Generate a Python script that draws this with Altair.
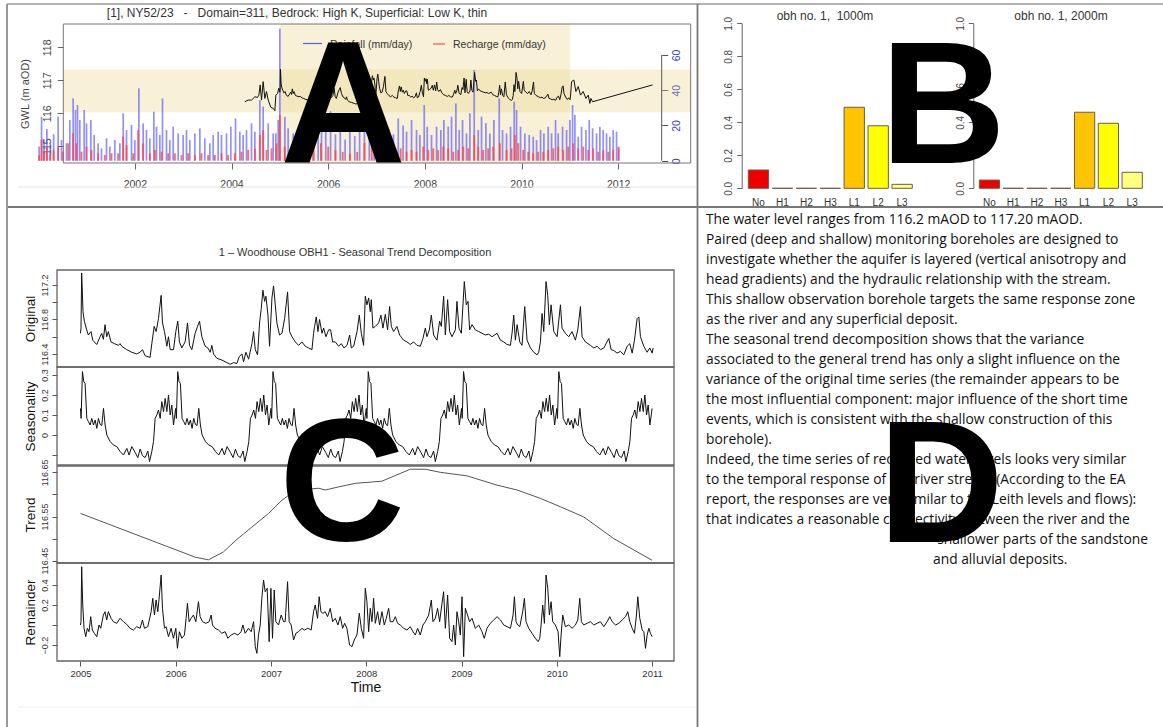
import altair as alt
import pandas as pd

FONT = "Liberation Sans"
TXT = "Open Sans"

# ================= Panel A : GWL, rainfall, recharge =================
rain = [
    (2000.02, 8), (2000.07, 25), (2000.12, 12), (2000.18, 18), (2000.25, 10), (2000.32, 15),
    (2000.414, 25.0), (2000.483, 11.7), (2000.586, 9.9), (2000.655, 23.1), (2000.724, 35.4),
    (2000.772, 28.8), (2000.814, 31.6), (2000.862, 23.1), (2000.952, 28.8), (2001.000, 21.2),
    (2001.090, 23.1), (2001.159, 14.6), (2001.241, 9.9), (2001.310, 7.0), (2001.414, 12.7),
    (2001.483, 8.0), (2001.586, 11.7), (2001.690, 9.9), (2001.759, 26.9), (2001.828, 17.4),
    (2001.931, 20.3), (2002.000, 11.7), (2002.083, 41.1), (2002.172, 21.2), (2002.241, 17.4),
    (2002.310, 12.7), (2002.393, 27.8), (2002.448, 19.3), (2002.517, 14.6), (2002.572, 35.4),
    (2002.655, 17.4), (2002.724, 11.7), (2002.793, 19.3), (2002.897, 15.5), (2003.000, 14.6),
    (2003.069, 17.4), (2003.138, 11.7), (2003.241, 15.5), (2003.345, 18.4), (2003.448, 12.7),
    (2003.552, 9.9), (2003.621, 14.6), (2003.724, 16.5), (2003.793, 14.6), (2003.897, 15.5),
    (2003.986, 19.3), (2004.083, 24.0), (2004.172, 16.5), (2004.241, 14.6), (2004.310, 17.4),
    (2004.414, 21.2), (2004.483, 16.5), (2004.586, 34.4), (2004.655, 30.7), (2004.759, 21.2),
    (2004.862, 15.5), (2004.917, 15.5), (2004.966, 23.1), (2005.000, 75.0), (2005.104, 25.0),
    (2005.172, 18.4), (2005.276, 15.5), (2005.379, 17.4), (2005.483, 19.3), (2005.586, 15.5),
    (2005.690, 25.0), (2005.793, 23.1), (2005.862, 19.3), (2005.95, 22), (2006.05, 28),
    (2006.15, 15), (2006.25, 18), (2006.35, 12), (2006.45, 20), (2006.55, 14), (2006.65, 25),
    (2006.75, 30), (2006.85, 35), (2006.95, 28), (2007.05, 32), (2007.15, 22), (2007.25, 18),
    (2007.35, 15), (2007.45, 24), (2007.55, 20),
    (2007.621, 16.5), (2007.725, 23.1), (2007.828, 17.4), (2007.897, 14.6), (2007.987, 31.6),
    (2008.049, 19.3), (2008.138, 14.6), (2008.242, 19.3), (2008.331, 17.4), (2008.393, 23.1),
    (2008.483, 19.3), (2008.552, 25.0), (2008.642, 32.5), (2008.711, 17.4), (2008.780, 23.1),
    (2008.862, 15.5), (2008.932, 26.9), (2009.021, 51.5), (2009.104, 17.4), (2009.173, 25.0),
    (2009.263, 21.2), (2009.345, 15.5), (2009.428, 23.1), (2009.539, 35.4), (2009.607, 17.4),
    (2009.690, 15.5), (2009.773, 19.3), (2009.849, 33.5), (2009.897, 28.8), (2009.980, 19.3),
    (2010.069, 15.5), (2010.159, 14.6), (2010.242, 13.6), (2010.311, 11.7), (2010.394, 17.4),
    (2010.463, 15.5), (2010.552, 19.3), (2010.621, 15.5), (2010.704, 23.1), (2010.759, 15.5),
    (2010.849, 19.3), (2010.932, 17.4), (2011.001, 23.1), (2011.056, 31.6), (2011.104, 26.0),
    (2011.173, 13.6), (2011.242, 19.3), (2011.332, 17.4), (2011.401, 23.1), (2011.470, 18.4),
    (2011.552, 15.5), (2011.621, 19.3), (2011.690, 17.4), (2011.759, 15.5), (2011.828, 13.6),
    (2011.897, 17.4), (2011.966, 16.5), (2012.008, 7.0),
]

recharge = [
    (2000.02, 3), (2000.07, 12), (2000.12, 5), (2000.18, 8), (2000.25, 4), (2000.32, 6),
    (2000.414, 7.9), (2000.517, 5.1), (2000.621, 9.9), (2000.724, 15.5), (2000.793, 9.9),
    (2000.897, 5.1), (2001.000, 7.9), (2001.103, 6.1), (2001.241, 4.2), (2001.379, 3.2),
    (2001.517, 4.2), (2001.655, 4.2), (2001.759, 13.6), (2001.828, 8.9), (2001.966, 4.2),
    (2002.069, 17.4), (2002.172, 9.9), (2002.310, 4.2), (2002.414, 6.1), (2002.552, 5.1),
    (2002.690, 4.2), (2002.828, 4.2), (2002.966, 3.2), (2003.103, 4.2), (2003.241, 3.2),
    (2003.379, 4.2), (2003.517, 3.2), (2003.655, 3.2), (2003.793, 4.2), (2003.931, 3.2),
    (2004.069, 4.2), (2004.207, 5.1), (2004.345, 6.1), (2004.483, 7.0), (2004.586, 14.6),
    (2004.655, 17.4), (2004.724, 6.1), (2004.828, 7.0), (2004.931, 9.9), (2005.000, 26.0),
    (2005.10, 8), (2005.25, 5), (2005.40, 6), (2005.55, 4), (2005.70, 9), (2005.85, 10),
    (2006.00, 8), (2006.15, 6), (2006.30, 5), (2006.45, 4), (2006.60, 5), (2006.75, 10),
    (2006.90, 14), (2007.05, 12), (2007.20, 9), (2007.35, 6), (2007.50, 7),
    (2007.621, 5.1), (2007.725, 6.1), (2007.828, 5.1), (2007.966, 8.0), (2008.069, 6.1),
    (2008.173, 7.0), (2008.276, 6.1), (2008.380, 8.0), (2008.483, 7.0), (2008.587, 5.1),
    (2008.690, 6.1), (2008.794, 8.0), (2008.897, 7.0), (2009.021, 14.6), (2009.104, 8.0),
    (2009.207, 6.1), (2009.311, 7.0), (2009.414, 8.0), (2009.552, 9.9), (2009.690, 6.1),
    (2009.794, 7.0), (2009.862, 14.6), (2009.932, 9.9), (2010.035, 6.1), (2010.139, 5.1),
    (2010.242, 4.2), (2010.345, 5.1), (2010.449, 5.1), (2010.552, 6.1), (2010.656, 7.0),
    (2010.759, 8.0), (2010.863, 6.1), (2010.966, 8.0), (2011.069, 9.9), (2011.173, 7.0),
    (2011.276, 8.0), (2011.380, 6.1), (2011.483, 7.0), (2011.587, 5.1), (2011.690, 6.1),
    (2011.794, 5.1), (2011.897, 6.1), (2012.008, 8.0),
]

gwl_before = [
    (2004.276, 116.35), (2004.345, 116.40), (2004.414, 116.40), (2004.483, 116.50),
    (2004.538, 116.48), (2004.566, 116.55), (2004.593, 116.86), (2004.621, 116.40),
    (2004.655, 116.96), (2004.690, 116.45), (2004.724, 116.66), (2004.759, 116.40),
    (2004.814, 116.18), (2004.862, 116.15), (2004.897, 116.08), (2004.917, 116.55),
    (2004.952, 116.60), (2004.979, 116.76),
]
gwl_after = [
    (2011.035, 116.96), (2011.083, 117.01), (2011.125, 116.66), (2011.173, 116.81),
    (2011.221, 116.55), (2011.276, 116.66), (2011.332, 116.45), (2011.380, 116.55),
    (2011.414, 116.30), (2011.435, 116.45), (2011.470, 116.35), (2012.711, 116.86),
]
band_years = [2005.0, 2011.0]
band_levels = [116.03, 117.33]

# ================= Panel B : bar charts =================
b_cats = ["No", "H1", "H2", "H3", "L1", "L2", "L3"]
b_1000 = [0.111, 0.0, 0.0, 0.0, 0.491, 0.379, 0.024]
b_2000 = [0.050, 0.0, 0.0, 0.0, 0.461, 0.394, 0.097]

# ================= Panel C : seasonal trend decomposition =================
original = [
    (2005.000, 116.64), (2005.006, 116.70), (2005.013, 117.34), (2005.027, 116.89), (2005.041, 116.78),
    (2005.066, 116.68), (2005.083, 116.62), (2005.111, 116.66), (2005.129, 116.56), (2005.171, 116.51),
    (2005.206, 116.60), (2005.223, 116.64), (2005.241, 116.57), (2005.258, 116.74), (2005.276, 116.60),
    (2005.293, 116.66), (2005.321, 116.54), (2005.356, 116.52), (2005.398, 116.50), (2005.416, 116.52),
    (2005.433, 116.49), (2005.486, 116.45), (2005.539, 116.42), (2005.591, 116.40), (2005.626, 116.42),
    (2005.651, 116.45), (2005.679, 116.38), (2005.731, 116.36), (2005.749, 116.52), (2005.774, 116.72),
    (2005.795, 116.66), (2005.819, 116.81), (2005.847, 117.08), (2005.861, 116.76), (2005.882, 116.66),
    (2005.907, 116.49), (2005.924, 116.60), (2005.942, 116.45), (2005.977, 116.45), (2006.001, 116.66),
    (2006.022, 116.78), (2006.039, 116.54), (2006.064, 116.47), (2006.099, 116.54), (2006.124, 116.76),
    (2006.145, 116.50), (2006.169, 116.45), (2006.204, 116.64), (2006.229, 116.72), (2006.250, 116.78),
    (2006.274, 116.60), (2006.309, 116.49), (2006.337, 116.47), (2006.362, 116.42), (2006.379, 116.50),
    (2006.397, 116.40), (2006.432, 116.35), (2006.484, 116.33), (2006.537, 116.30), (2006.572, 116.28),
    (2006.607, 116.30), (2006.642, 116.29), (2006.667, 116.37), (2006.695, 116.40), (2006.712, 116.31),
    (2006.737, 116.42), (2006.765, 116.34), (2006.800, 116.52), (2006.817, 116.66), (2006.835, 116.45),
    (2006.859, 116.39), (2006.880, 116.76), (2006.898, 116.93), (2006.915, 117.14), (2006.933, 117.01),
    (2006.947, 117.07), (2006.968, 116.85), (2006.985, 116.49), (2007.010, 117.05), (2007.027, 117.19),
    (2007.045, 116.97), (2007.062, 116.76), (2007.090, 116.62), (2007.115, 116.64), (2007.143, 116.81),
    (2007.174, 117.12), (2007.195, 116.66), (2007.220, 116.60), (2007.255, 116.54), (2007.290, 116.50),
    (2007.325, 116.54), (2007.360, 116.49), (2007.395, 116.47), (2007.430, 116.45), (2007.447, 116.64),
    (2007.458, 116.72), (2007.475, 116.83), (2007.493, 116.66), (2007.510, 116.80), (2007.535, 116.64),
    (2007.553, 116.70), (2007.577, 116.60), (2007.605, 116.68), (2007.626, 116.68), (2007.647, 116.54),
    (2007.675, 116.54), (2007.710, 116.49), (2007.738, 116.52), (2007.766, 116.47), (2007.798, 116.50),
    (2007.826, 116.62), (2007.843, 116.47), (2007.868, 116.49), (2007.903, 116.66), (2007.927, 116.85),
    (2007.948, 116.64), (2007.972, 116.50),
    (2007.990, 117.07), (2008.007, 116.97), (2008.025, 117.05), (2008.042, 116.89), (2008.053, 117.03),
    (2008.070, 116.70), (2008.095, 116.72), (2008.130, 116.76), (2008.154, 116.85), (2008.175, 116.70),
    (2008.200, 116.86), (2008.224, 116.68), (2008.245, 116.95), (2008.263, 116.72), (2008.287, 116.66),
    (2008.322, 116.72), (2008.350, 116.62), (2008.392, 116.56), (2008.427, 116.54), (2008.462, 116.51),
    (2008.497, 116.54), (2008.532, 116.50), (2008.567, 116.49), (2008.595, 116.58), (2008.620, 116.70),
    (2008.637, 116.60), (2008.662, 116.68), (2008.683, 116.85), (2008.707, 116.62), (2008.742, 116.56),
    (2008.770, 116.78), (2008.788, 116.72), (2008.812, 117.07), (2008.830, 116.62), (2008.854, 117.03),
    (2008.875, 116.66), (2008.900, 116.60), (2008.935, 116.68), (2008.952, 117.01), (2008.973, 116.70),
    (2008.998, 116.64), (2009.029, 117.24), (2009.050, 116.97), (2009.068, 117.01), (2009.085, 116.68),
    (2009.110, 116.74), (2009.145, 116.68), (2009.180, 116.66), (2009.215, 116.64), (2009.250, 116.62),
    (2009.285, 116.63), (2009.320, 116.60), (2009.373, 116.64), (2009.408, 116.56), (2009.443, 116.54),
    (2009.478, 116.51), (2009.513, 116.50), (2009.530, 116.64), (2009.548, 116.85), (2009.565, 116.56),
    (2009.583, 116.74), (2009.611, 116.54), (2009.635, 116.50), (2009.663, 116.95), (2009.688, 116.56),
    (2009.723, 116.47), (2009.758, 116.42), (2009.793, 116.39), (2009.810, 116.42), (2009.828, 116.54),
    (2009.845, 116.87), (2009.863, 116.66), (2009.887, 117.24), (2009.905, 117.08), (2009.922, 116.74),
    (2009.940, 116.97), (2009.968, 116.66), (2010.003, 116.60), (2010.038, 116.97), (2010.055, 116.70),
    (2010.090, 116.64), (2010.125, 116.60), (2010.160, 116.66), (2010.195, 116.56), (2010.220, 116.68),
    (2010.248, 116.95), (2010.265, 116.60), (2010.300, 116.54), (2010.353, 116.50), (2010.388, 116.47),
    (2010.423, 116.49), (2010.458, 116.45), (2010.493, 116.47), (2010.546, 116.58), (2010.570, 116.45),
    (2010.598, 116.44), (2010.633, 116.41), (2010.668, 116.43), (2010.703, 116.39), (2010.738, 116.49),
    (2010.766, 116.52), (2010.791, 116.41), (2010.815, 116.56), (2010.843, 116.81), (2010.861, 116.83),
    (2010.878, 116.60), (2010.913, 116.49), (2010.948, 116.42), (2010.976, 116.47), (2011.001, 116.41),
    (2011.011, 116.47),
]

# one year of the (periodic) seasonal component: fraction of year, value
seas_frac = [0.000, 0.007, 0.021, 0.035, 0.049, 0.067, 0.084, 0.102, 0.119, 0.137, 0.154, 0.172,
             0.189, 0.207, 0.224, 0.242, 0.259, 0.277, 0.312, 0.347, 0.382, 0.417, 0.452, 0.487,
             0.511, 0.539, 0.574, 0.602, 0.627, 0.651, 0.679, 0.707, 0.725, 0.749, 0.767, 0.784,
             0.802, 0.819, 0.837, 0.854, 0.872, 0.889, 0.907, 0.924, 0.942, 0.959, 0.977]
seas_val = [0.133, 0.083, 0.317, 0.267, 0.258, 0.083, 0.067, 0.050, 0.083, 0.050, 0.075, 0.033,
            0.083, 0.053, 0.047, 0.133, 0.050, 0.000, -0.033, -0.050, -0.058, -0.083, -0.100, -0.067,
            -0.100, -0.058, -0.087, -0.113, -0.070, -0.103, -0.113, -0.080, -0.133, -0.083, -0.033, 0.083,
            0.100, 0.125, 0.083, 0.167, 0.117, 0.183, 0.117, 0.200, 0.100, 0.150, 0.050]
seas_years = [2005, 2006, 2007, 2008, 2009, 2010]

trend = [
    (2005.000, 116.557), (2006.204, 116.458), (2006.344, 116.452), (2006.501, 116.470),
    (2006.641, 116.498), (2006.799, 116.526), (2006.974, 116.557), (2007.115, 116.587),
    (2007.185, 116.598), (2007.300, 116.608), (2007.400, 116.612), (2007.500, 116.614),
    (2007.570, 116.610), (2007.710, 116.617), (2007.885, 116.625), (2008.165, 116.630),
    (2008.462, 116.657), (2008.620, 116.657), (2008.777, 116.650), (2009.057, 116.642),
    (2009.373, 116.621), (2009.583, 116.610), (2009.828, 116.591), (2010.038, 116.572),
    (2010.283, 116.549), (2010.598, 116.500), (2010.843, 116.470), (2011.000, 116.451),
]

remainder = [
    (2005.000, 0.000), (2005.006, 0.033), (2005.013, 0.583), (2005.024, 0.200), (2005.038, -0.033),
    (2005.055, -0.117), (2005.073, -0.033), (2005.090, -0.067), (2005.108, 0.083), (2005.125, -0.050),
    (2005.146, -0.083), (2005.171, -0.117), (2005.195, 0.000), (2005.213, -0.033), (2005.241, 0.100),
    (2005.258, 0.133), (2005.276, 0.050), (2005.293, 0.133), (2005.321, 0.067), (2005.346, 0.033),
    (2005.381, 0.017), (2005.416, 0.067), (2005.451, 0.033), (2005.486, 0.007), (2005.521, -0.033),
    (2005.556, -0.050), (2005.591, -0.017), (2005.626, -0.033), (2005.651, 0.050), (2005.672, -0.033),
    (2005.707, -0.017), (2005.742, 0.133), (2005.759, 0.267), (2005.777, 0.100), (2005.794, 0.250),
    (2005.812, 0.133), (2005.829, 0.300), (2005.847, 0.500), (2005.861, 0.167), (2005.882, -0.033),
    (2005.899, -0.017), (2005.924, -0.117), (2005.952, -0.033), (2005.976, -0.133), (2006.001, -0.033),
    (2006.018, -0.233), (2006.039, -0.067), (2006.064, -0.133), (2006.092, -0.100), (2006.109, 0.067),
    (2006.123, 0.217), (2006.141, 0.033), (2006.162, 0.067), (2006.186, 0.100), (2006.211, 0.033),
    (2006.239, 0.233), (2006.256, 0.083), (2006.281, 0.033), (2006.316, 0.017), (2006.351, 0.033),
    (2006.372, 0.100), (2006.386, 0.000), (2006.414, -0.033), (2006.449, -0.050), (2006.484, -0.083),
    (2006.519, -0.067), (2006.547, -0.133), (2006.582, -0.100), (2006.617, -0.083), (2006.652, -0.100),
    (2006.687, -0.067), (2006.705, 0.000), (2006.729, -0.083), (2006.764, -0.033), (2006.792, -0.067),
    (2006.817, 0.033), (2006.835, -0.217), (2006.852, -0.283), (2006.869, -0.100), (2006.887, 0.000),
    (2006.904, 0.267), (2006.922, 0.450), (2006.939, 0.333), (2006.960, 0.367), (2006.981, -0.167),
    (2006.999, 0.367), (2007.016, -0.133), (2007.034, 0.350), (2007.051, 0.033), (2007.079, 0.000),
    (2007.107, 0.100), (2007.132, 0.033), (2007.149, 0.033), (2007.174, 0.433), (2007.191, 0.033),
    (2007.212, 0.000), (2007.237, -0.150), (2007.261, -0.083), (2007.289, -0.067), (2007.324, -0.033),
    (2007.352, -0.050), (2007.387, -0.033), (2007.422, -0.050), (2007.447, 0.133), (2007.464, 0.200),
    (2007.489, 0.067), (2007.506, 0.283), (2007.524, 0.133), (2007.545, 0.117), (2007.569, 0.133),
    (2007.594, 0.083), (2007.622, 0.167), (2007.647, 0.033), (2007.675, 0.067), (2007.703, 0.000),
    (2007.727, 0.083), (2007.752, -0.033), (2007.773, 0.017), (2007.797, -0.033), (2007.825, -0.200),
    (2007.850, -0.217), (2007.874, -0.150), (2007.902, -0.100), (2007.927, 0.117), (2007.948, -0.033),
    (2007.972, -0.133),
    (2007.990, 0.367), (2008.007, 0.233), (2008.025, -0.067), (2008.042, 0.167), (2008.060, 0.033),
    (2008.077, 0.267), (2008.095, 0.017), (2008.119, 0.133), (2008.140, 0.000), (2008.165, 0.133),
    (2008.189, 0.000), (2008.210, 0.067), (2008.235, 0.167), (2008.252, 0.033), (2008.280, 0.033),
    (2008.305, 0.083), (2008.329, 0.017), (2008.357, 0.000), (2008.392, -0.033), (2008.427, -0.050),
    (2008.462, -0.017), (2008.490, -0.067), (2008.515, -0.100), (2008.539, -0.033), (2008.567, -0.100),
    (2008.595, 0.000), (2008.620, 0.033), (2008.655, 0.100), (2008.683, 0.250), (2008.700, 0.033),
    (2008.725, 0.067), (2008.749, 0.167), (2008.770, 0.033), (2008.795, 0.217), (2008.812, 0.333),
    (2008.830, -0.033), (2008.854, 0.300), (2008.875, -0.133), (2008.900, -0.167), (2008.917, 0.000),
    (2008.935, -0.200), (2008.952, 0.133), (2008.970, 0.033), (2008.987, -0.100), (2009.005, 0.283),
    (2009.022, -0.317), (2009.040, 0.167), (2009.057, 0.117), (2009.085, 0.033), (2009.110, 0.067),
    (2009.145, -0.033), (2009.180, 0.000), (2009.215, -0.067), (2009.239, -0.133), (2009.267, -0.033),
    (2009.302, 0.017), (2009.338, 0.050), (2009.373, 0.083), (2009.408, 0.050), (2009.443, 0.000),
    (2009.478, -0.017), (2009.513, -0.033), (2009.541, 0.100), (2009.555, 0.283), (2009.572, 0.033),
    (2009.590, 0.000), (2009.611, -0.017), (2009.642, 0.133), (2009.660, 0.267), (2009.677, 0.033),
    (2009.705, -0.033), (2009.740, -0.083), (2009.775, -0.133), (2009.803, -0.167), (2009.821, -0.133),
    (2009.835, 0.000), (2009.852, 0.200), (2009.870, 0.017), (2009.887, 0.500), (2009.905, 0.367),
    (2009.922, 0.100), (2009.940, 0.233), (2009.957, 0.033), (2009.985, 0.000), (2010.013, -0.067),
    (2010.031, -0.317), (2010.045, -0.100), (2010.062, 0.100), (2010.090, -0.017), (2010.125, 0.000),
    (2010.160, -0.033), (2010.195, 0.000), (2010.220, 0.050), (2010.241, 0.267), (2010.258, 0.033),
    (2010.283, 0.000), (2010.318, 0.017), (2010.353, 0.033), (2010.388, 0.000), (2010.423, 0.017),
    (2010.458, 0.033), (2010.493, -0.017), (2010.528, 0.033), (2010.556, 0.083), (2010.581, 0.033),
    (2010.616, 0.000), (2010.651, 0.017), (2010.686, 0.050), (2010.721, 0.083), (2010.745, 0.133),
    (2010.766, 0.033), (2010.791, -0.033), (2010.815, -0.083), (2010.836, 0.100), (2010.850, 0.283),
    (2010.871, 0.067), (2010.896, -0.050), (2010.913, -0.067), (2010.931, -0.233), (2010.948, -0.100),
    (2010.966, -0.033), (2010.983, -0.083), (2011.001, -0.117),
]

# ================= Panel D : text =================
d_lines = [
    "The water level ranges from 116.2 mAOD to 117.20 mAOD.",
    "Paired (deep and shallow) monitoring boreholes are designed to",
    "investigate whether the aquifer is layered (vertical anisotropy and",
    "head gradients) and the hydraulic relationship with the stream.",
    "This shallow observation borehole targets the same response zone",
    "as the river and any superficial deposit.",
    "The seasonal trend decomposition shows that the variance",
    "associated to the general trend has only a slight influence on the",
    "variance of the original time series (the remainder appears to be",
    "the most influential component: major influence of the short time",
    "events, which is consistent with the shallow construction of this",
    "borehole).",
    "Indeed, the time series of recorded water levels looks very similar",
    "to the temporal response of the river stream (According to the EA",
    "report, the responses are very similar to the Leith levels and flows):",
    "that indicates a reasonable connectivity between the river and the",
    "shallower parts of the sandstone",
    "and alluvial deposits.",
]

title_a = "[1], NY52/23\u00a0\u00a0\u00a0-\u00a0\u00a0\u00a0Domain=311, Bedrock: High K, Superficial: Low K, thin"
title_c = "1 \u2013 Woodhouse OBH1 - Seasonal Trend Decomposition"

# ---------------------------------------------------------------------
W, H = 1163, 727


def pairs(p):
    return pd.DataFrame(p, columns=["t", "v"])


one = pd.DataFrame({"a": [0]})
layers = []


def hline(x1, x2, y, color, w):
    return alt.Chart(one).mark_rule(color=color, strokeWidth=w).encode(
        x=alt.value(x1), x2=alt.value(x2), y=alt.value(y))


def vline(x, y1, y2, color, w):
    return alt.Chart(one).mark_rule(color=color, strokeWidth=w).encode(
        x=alt.value(x), y=alt.value(y1), y2=alt.value(y2))


def label(text, x, y, size, color="#333", align="center", font=FONT, weight="normal", baseline="alphabetic"):
    return alt.Chart(pd.DataFrame({"s": [text]})).mark_text(
        font=font, fontSize=size, color=color, align=align, fontWeight=weight, baseline=baseline
    ).encode(x=alt.value(x), y=alt.value(y), text="s:N")


def qs(dom, rng):
    return alt.Scale(domain=dom, range=rng, nice=False, zero=False)


# ---------------- Panel A ----------------
A_xdom, A_xrng = [2000.52, 2013.5], [63.3, 690.7]
A_ydom, A_yrng = [114.49, 118.71], [163, 24]
A_rdom = [-1.3, 77.6]
sxA, syA, srA = qs(A_xdom, A_xrng), qs(A_ydom, A_yrng), qs(A_rdom, A_yrng)

axA_x = alt.Axis(orient="bottom", offset=163 - H, values=[2002, 2004, 2006, 2008, 2010, 2012], format="d",
                 tickSize=6, labelPadding=10, domain=False, grid=False, labelFont=FONT, labelFontSize=10.5,
                 labelColor="#444", tickColor="#666", labelFlush=False, title=None)
axA_y = alt.Axis(orient="left", offset=-63.3, values=[115, 116, 117, 118], format="d", tickSize=6,
                 labelAngle=-90, labelAlign="center", labelBaseline="bottom", labelPadding=5,
                 domain=False, grid=False, labelFont=FONT, labelFontSize=10.5, labelColor="#444",
                 tickColor="#666", labelFlush=False, labelOverlap=False,
                 title="GWL (m aOD)", titleFont=FONT, titleFontSize=11, titleFontWeight="normal",
                 titleColor="#444", titlePadding=12)
axA_r = alt.Axis(orient="right", offset=661.7 - W, values=[0, 20, 40, 60], format="d", tickSize=6,
                 labelAngle=-90, labelAlign="center", labelBaseline="top", labelPadding=4,
                 domain=False, grid=False, labelFont=FONT, labelFontSize=10.5, labelColor="#3a3acc",
                 tickColor="#555", labelFlush=False, labelOverlap=False, title=None)

band_v = pd.DataFrame({"x0": [band_years[0]], "x1": [band_years[1]], "y0": [A_ydom[0]], "y1": [A_ydom[1]]})
band_h = pd.DataFrame({"x0": [A_xdom[0]], "x1": [A_xdom[1]], "y0": [band_levels[0]], "y1": [band_levels[1]]})
for b in (band_v, band_h):
    layers.append(alt.Chart(b).mark_rect(color="#E8D07D", opacity=0.3).encode(
        x=alt.X("x0:Q", scale=sxA, axis=None), x2="x1:Q",
        y=alt.Y("y0:Q", scale=syA, axis=None), y2="y1:Q"))

layers.append(alt.Chart(pairs(rain)).mark_rule(color="#5555ff", strokeWidth=1.7, opacity=0.65).encode(
    x=alt.X("t:Q", scale=sxA, axis=None), y=alt.Y("v:Q", scale=srA, axis=axA_r), y2=alt.datum(0)))
layers.append(alt.Chart(pairs(recharge)).mark_rule(color="#ff4545", strokeWidth=1.9, opacity=0.8).encode(
    x=alt.X("t:Q", scale=sxA, axis=None), y=alt.Y("v:Q", scale=srA, axis=None), y2=alt.datum(0)))
layers.append(alt.Chart(pd.DataFrame({"lo": [0], "hi": [60]})).mark_rule(color="#555").encode(
    x=alt.value(661.7), y=alt.Y("lo:Q", scale=srA, axis=None), y2="hi:Q"))

gwl = gwl_before + original + gwl_after
layers.append(alt.Chart(pairs(gwl)).mark_line(color="#111", strokeWidth=1).encode(
    x=alt.X("t:Q", scale=sxA, axis=axA_x), y=alt.Y("v:Q", scale=syA, axis=axA_y)))
frameA = pd.DataFrame({"x0": [A_xdom[0]], "x1": [A_xdom[1]], "y0": [A_ydom[0]], "y1": [A_ydom[1]]})
layers.append(alt.Chart(frameA).mark_rect(filled=False, stroke="#777", strokeWidth=1).encode(
    x=alt.X("x0:Q", scale=sxA, axis=None), x2="x1:Q", y=alt.Y("y0:Q", scale=syA, axis=None), y2="y1:Q"))

# legend of panel A
layers.append(hline(303, 322, 43.5, "#5a5aff", 1.2))
layers.append(label("Rainfall (mm/day)", 330, 47.5, 10.5, "#333", "left"))
layers.append(hline(433, 445, 44, "#ff5050", 1.2))
layers.append(label("Recharge (mm/day)", 453, 47.5, 10.5, "#333", "left"))
layers.append(label(title_a, 297, 17, 12, "#333"))

# ---------------- Panel B ----------------
b_colors = ["#EE0000", "#EEEEEE", "#EEEEEE", "#EEEEEE", "#FFC400", "#FFFF00", "#FFFF80"]
for vals, xr, axx, ttl, tx in ((b_1000, [748.3, 912.3], 741.7, "obh no. 1,\u00a0\u00a01000m", 825),
                               (b_2000, [979.3, 1142.3], 973.3, "obh no. 1, 2000m", 1061)):
    axy = alt.Axis(orient="left", offset=-axx, values=[0, 0.2, 0.4, 0.6, 0.8, 1.0], format=".1f",
                   tickSize=5, labelAngle=-90, labelAlign="center", labelBaseline="bottom", labelPadding=3,
                   domain=True, domainColor="#666", tickColor="#666", grid=False, labelFont=FONT,
                   labelFontSize=10, labelColor="#444", labelFlush=False, labelOverlap=False, title=None)
    axc = alt.Axis(orient="bottom", offset=190 - H, ticks=False, domain=False, labelPadding=7, labelAngle=0,
                   labelFont=FONT, labelFontSize=10, labelColor="#333", grid=False, title=None)
    dfb = pd.DataFrame({"cat": b_cats, "val": vals})
    layers.append(alt.Chart(dfb).mark_bar(stroke="#6b5e45", strokeWidth=1).encode(
        x=alt.X("cat:N", sort=b_cats,
                scale=alt.Scale(domain=b_cats, range=xr, paddingInner=0.15, paddingOuter=0), axis=axc),
        y=alt.Y("val:Q", scale=qs([0, 1], [188.3, 23.3]), axis=axy), y2=alt.datum(0),
        color=alt.Color("cat:N", scale=alt.Scale(domain=b_cats, range=b_colors), legend=None)))
    layers.append(label(ttl, tx, 20, 12, "#333"))

# ---------------- Panel C ----------------
C_xdom, C_xrng = [2004.754, 2011.23], [57, 674]
sxC = qs(C_xdom, C_xrng)


def c_axis(title, values, expr):
    return alt.Axis(orient="left", offset=-57, values=values, labelExpr=expr, tickSize=5, labelAngle=-90,
                    labelAlign="center", labelBaseline="bottom", labelPadding=3, domain=False, grid=False,
                    labelFont=FONT, labelFontSize=9, labelColor="#333", tickColor="#555", labelFlush=False,
                    labelOverlap=False, title=title, titleFont=FONT, titleFontSize=13.5,
                    titleFontWeight="normal", titleColor="#111", titlePadding=3)


axTime = alt.Axis(orient="bottom", offset=661 - H, values=[2005, 2006, 2007, 2008, 2009, 2010, 2011],
                  format="d", tickSize=5, labelPadding=2, domain=False, grid=False, labelFont=FONT,
                  labelFontSize=9.5, labelColor="#333", tickColor="#555", labelFlush=False,
                  title="Time", titleFont=FONT, titleFontSize=14, titleFontWeight="normal",
                  titleColor="#111", titlePadding=3)

seasonal = [(y + f, v) for y in seas_years for f, v in zip(seas_frac, seas_val)] + [(2011.0, seas_val[0])]

panels = [
    (original, [116.249, 117.374], [367, 270], "Original", [116.4, 116.6, 116.8, 117.0, 117.2],
     "(abs(datum.value-116.6)<0.01 || abs(datum.value-117.0)<0.01) ? '' : format(datum.value, '.1f')",
     "#111", None),
    (seasonal, [-0.15, 0.34], [465, 367], "Seasonality", [-0.1, 0, 0.1, 0.2, 0.3],
     "datum.value < -0.05 ? '' : (abs(datum.value) < 0.001 ? '0' : format(datum.value, '.1f'))",
     "#111", None),
    (trend, [116.4448, 116.6643], [563, 466], "Trend", [116.45, 116.5, 116.55, 116.6, 116.65],
     "(abs(datum.value-116.5)<0.001 || abs(datum.value-116.6)<0.001) ? '' : format(datum.value, '.2f')",
     "#555", None),
    (remainder, [-0.36, 0.62], [661, 563], "Remainder", [-0.2, 0, 0.2, 0.4],
     "abs(datum.value) < 0.001 ? '' : format(datum.value, '.1f')",
     "#111", axTime),
]
for data, ydom, yrng, ttl, vals, expr, col, xax in panels:
    sy = qs(ydom, yrng)
    layers.append(alt.Chart(pairs(data)).mark_line(color=col, strokeWidth=1).encode(
        x=alt.X("t:Q", scale=sxC, axis=xax), y=alt.Y("v:Q", scale=sy, axis=c_axis(ttl, vals, expr))))
    fr = pd.DataFrame({"x0": [C_xdom[0]], "x1": [C_xdom[1]], "y0": [ydom[0]], "y1": [ydom[1]]})
    layers.append(alt.Chart(fr).mark_rect(filled=False, stroke="#666", strokeWidth=1.3).encode(
        x=alt.X("x0:Q", scale=sxC, axis=None), x2="x1:Q", y=alt.Y("y0:Q", scale=sy, axis=None), y2="y1:Q"))

layers.append(label(title_c, 355, 256, 11, "#333"))

# ---------------- Panel D ----------------
sD = qs([0, len(d_lines) - 1], [220, 560])
dfD = pd.DataFrame({"i": list(range(len(d_lines))), "s": d_lines})
D_SIZE = 13.8
layers.append(alt.Chart(dfD[dfD.i < 16]).mark_text(font=TXT, fontSize=D_SIZE, color="#111", align="left",
                                                   baseline="middle").encode(
    x=alt.value(706), y=alt.Y("i:Q", scale=sD, axis=None), text="s:N"))
layers.append(alt.Chart(dfD[dfD.i == 16]).mark_text(font=TXT, fontSize=D_SIZE, color="#111", align="right",
                                                    baseline="middle").encode(
    x=alt.value(1148), y=alt.Y("i:Q", scale=sD, axis=None), text="s:N"))
layers.append(alt.Chart(dfD[dfD.i == 17]).mark_text(font=TXT, fontSize=D_SIZE, color="#111", align="left",
                                                    baseline="middle").encode(
    x=alt.value(933), y=alt.Y("i:Q", scale=sD, axis=None), text="s:N"))

# ---------------- frame / separators ----------------
layers.append(hline(18, 697, 187, "#e4e4e4", 1))
layers.append(hline(18, 697, 707, "#ececec", 1))
layers.append(hline(7, W, 4, "#999", 1.5))
layers.append(hline(7, W, 207, "#777", 1.8))
layers.append(vline(7, 4, H, "#999", 2))
layers.append(vline(697.5, 4, H, "#777", 1.8))

# ---------------- big letters ----------------
for ch, x, y in (("A", 343, 163), ("B", 943, 163), ("C", 342, 540), ("D", 941, 542)):
    layers.append(label(ch, x, y, 174, "#000", "center", FONT, "bold"))

chart = alt.layer(*layers).resolve_scale(
    x="independent", y="independent", color="independent"
).properties(
    width=W, height=H, autosize=alt.AutoSizeParams(type="none"), padding=0, background="white"
).configure_view(strokeWidth=0)

chart.save("out.html", embed_options={"renderer": "svg", "actions": False})
